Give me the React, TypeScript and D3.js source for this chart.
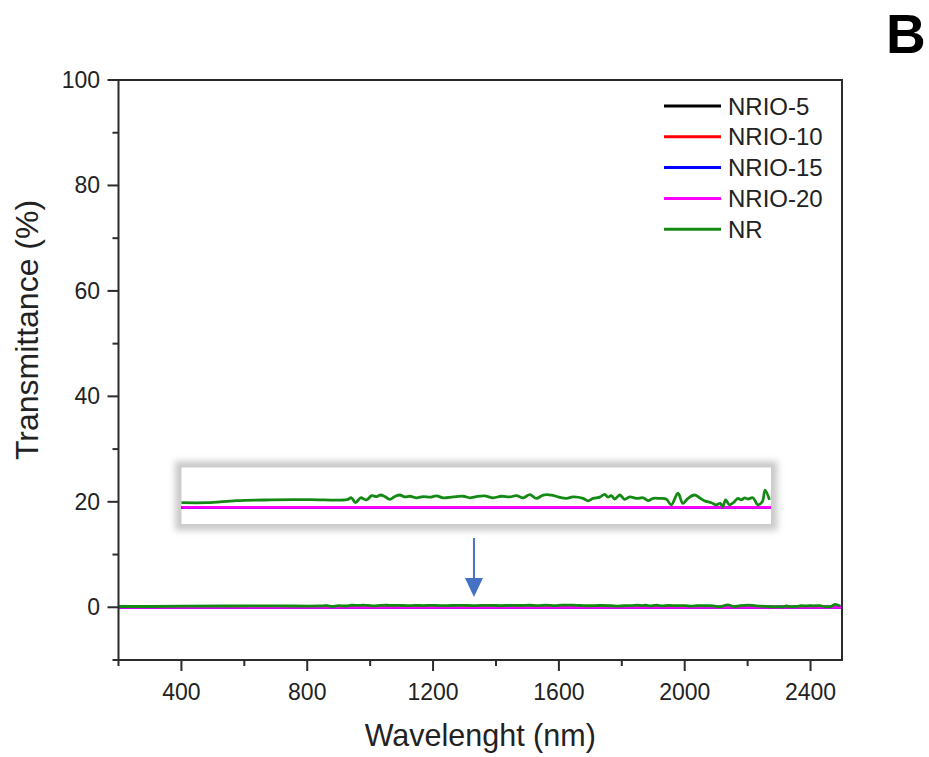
import { useMemo } from 'react'
import * as d3 from 'd3'

// wavelengths (nm) and transmittance (%)
const baseWl = [200, 600, 1000, 1400, 1800, 2200, 2500]
const nrio5 = [0, 0, 0, 0, 0, 0, 0]
const nrio10 = [0, 0, 0, 0, 0, 0, 0]
const nrio15 = [0, 0, 0, 0, 0, 0, 0]
const nrio20 = [0, 0, 0, 0, 0, 0, 0]

const nrWl = [
  200, 300, 415, 545, 700, 845, 863, 879, 899, 922, 942, 961, 977, 993, 1013, 1032, 1052, 1071,
  1091, 1117, 1143, 1169, 1195, 1221, 1260, 1299, 1325, 1351, 1383, 1416, 1448, 1481, 1507, 1533,
  1559, 1585, 1611, 1643, 1669, 1702, 1728, 1767, 1786, 1806, 1832, 1851, 1864, 1877, 1890, 1910,
  1929, 1949, 1975, 2001, 2020, 2040, 2065, 2091, 2111, 2137, 2156, 2176, 2202, 2221, 2241, 2267,
  2286, 2302, 2312, 2323, 2338, 2357, 2371, 2384, 2397, 2410, 2429, 2449, 2466, 2477, 2494,
]
const nr = [
  0.15, 0.15, 0.215, 0.24, 0.25, 0.25, 0.31, 0.15, 0.31, 0.24, 0.38, 0.35, 0.4, 0.35, 0.26, 0.35, 0.4, 0.34,
  0.36, 0.31, 0.35, 0.33, 0.37, 0.31, 0.34, 0.36, 0.31, 0.35, 0.37, 0.31, 0.36, 0.34, 0.38, 0.31,
  0.41, 0.29, 0.4, 0.4, 0.34, 0.29, 0.34, 0.29, 0.21, 0.29, 0.33, 0.42, 0.33, 0.38, 0.27, 0.4,
  0.26, 0.34, 0.29, 0.31, 0.22, 0.29, 0.29, 0.27, 0.08, 0.46, 0.13, 0.29, 0.4, 0.31, 0.21, 0.15,
  0.08, 0.13, 0.02, 0.24, 0.08, 0.18, 0.29, 0.24, 0.31, 0.27, 0.31, 0.08, 0.18, 0.56, 0.24,
]

const seriesNames = ['NRIO-5', 'NRIO-10', 'NRIO-15', 'NRIO-20', 'NR']
const seriesColors = ['#000000', '#ff0000', '#0000ff', '#ff00ff', '#148a14']

const xTicks = [400, 800, 1200, 1600, 2000, 2400]
const yTicks = [0, 20, 40, 60, 80, 100]

const font = '"Liberation Sans", Arial, Helvetica, sans-serif'

export default function App() {
  const W = 929
  const H = 757
  const m = { left: 118.5, right: 842, top: 80, bottom: 660 }

  const x = d3.scaleLinear().domain([200, 2500]).range([m.left, m.right])
  const y = d3.scaleLinear().domain([-10, 100]).range([m.bottom, m.top])

  // inset: same wavelength range, magnified transmittance
  const ix = d3.scaleLinear().domain([200, 2500]).range([181.5, 771])
  const iy = d3.scaleLinear().domain([0, 1]).range([507.3, 476.6])

  const series = useMemo(() => {
    const flat = [nrio5, nrio10, nrio15, nrio20].map(vals =>
      baseWl.map((w, i) => ({ w, v: vals[i] }))
    )
    const green = nrWl.map((w, i) => ({ w, v: nr[i] }))
    return [...flat, green]
  }, [])

  const mainLine = d3.line<{ w: number; v: number }>()
    .x(d => x(d.w))
    .y(d => y(d.v))
    .curve(d3.curveCatmullRom)
  const insetLine = d3.line<{ w: number; v: number }>()
    .x(d => ix(d.w))
    .y(d => iy(d.v))
    .curve(d3.curveCatmullRom)

  const xMinor = d3.range(200, 2501, 200).filter(v => v % 400 !== 0)
  const yMinor = d3.range(-10, 100, 20)
  const axisColor = '#2b2b2b'

  const arrowX = x(1330)

  return (
    <div style={{ position: 'fixed', left: 0, top: 0 }}>
      <svg width={W} height={H} style={{ display: 'block', background: '#fff' }}>
        <defs>
          <filter id="blur" x="-10%" y="-50%" width="120%" height="200%">
            <feGaussianBlur stdDeviation="3" />
          </filter>
        </defs>

        {/* main lines */}
        {series.map((s, i) => (
          <path key={i} d={mainLine(s) ?? ''} fill="none" stroke={seriesColors[i]} strokeWidth={2.8} />
        ))}

        {/* frame */}
        <rect x={m.left} y={m.top} width={m.right - m.left} height={m.bottom - m.top}
          fill="none" stroke={axisColor} strokeWidth={2} />

        {/* x ticks */}
        {xTicks.map(t => (
          <g key={t}>
            <line x1={x(t)} x2={x(t)} y1={m.bottom} y2={m.bottom + 11} stroke={axisColor} strokeWidth={2} />
            <text x={x(t)} y={700} textAnchor="middle" fontSize={23} fontFamily={font} fill="#222">{t}</text>
          </g>
        ))}
        {xMinor.map(t => (
          <line key={t} x1={x(t)} x2={x(t)} y1={m.bottom} y2={m.bottom + 6} stroke={axisColor} strokeWidth={2} />
        ))}

        {/* y ticks */}
        {yTicks.map(t => (
          <g key={t}>
            <line x1={m.left - 11} x2={m.left} y1={y(t)} y2={y(t)} stroke={axisColor} strokeWidth={2} />
            <text x={100} y={y(t) + 8} textAnchor="end" fontSize={23} fontFamily={font} fill="#222">{t}</text>
          </g>
        ))}
        {yMinor.map(t => (
          <line key={t} x1={m.left - 6} x2={m.left} y1={y(t)} y2={y(t)} stroke={axisColor} strokeWidth={2} />
        ))}

        {/* axis titles */}
        <text x={(m.left + m.right) / 2} y={746} textAnchor="middle" fontSize={30.5} fontFamily={font} fill="#222">
          Wavelenght (nm)
        </text>
        <text transform={`translate(38, ${(m.top + m.bottom) / 2 - 40}) rotate(-90)`} textAnchor="middle"
          fontSize={32} fontFamily={font} fill="#222">
          Transmittance (%)
        </text>

        {/* panel letter */}
        <text x={886} y={53} fontSize={55} fontWeight="bold" fontFamily={font} fill="#000">B</text>

        {/* legend */}
        {seriesNames.map((n, i) => {
          const ly = 106 + i * 30.8
          return (
            <g key={n}>
              <line x1={664} x2={721} y1={ly} y2={ly} stroke={seriesColors[i]} strokeWidth={3} />
              <text x={728} y={ly + 8.5} fontSize={24} fontFamily={font} fill="#222">{n}</text>
            </g>
          )
        })}

        {/* inset */}
        <rect x={181.5} y={467.5} width={589.5} height={56.5} fill="none" stroke="#cacaca"
          strokeWidth={13} filter="url(#blur)" />
        <rect x={181.5} y={467.5} width={589.5} height={56.5} fill="#fff" />
        {series.map((s, i) => (
          <path key={i} d={insetLine(s) ?? ''} fill="none" stroke={seriesColors[i]} strokeWidth={2.8} />
        ))}

        {/* arrow */}
        <line x1={arrowX} x2={arrowX} y1={538} y2={580} stroke="#4472c4" strokeWidth={2} />
        <path d={`M${arrowX - 9},578 L${arrowX + 9},578 L${arrowX},597 Z`} fill="#4472c4" />
      </svg>
    </div>
  )
}
